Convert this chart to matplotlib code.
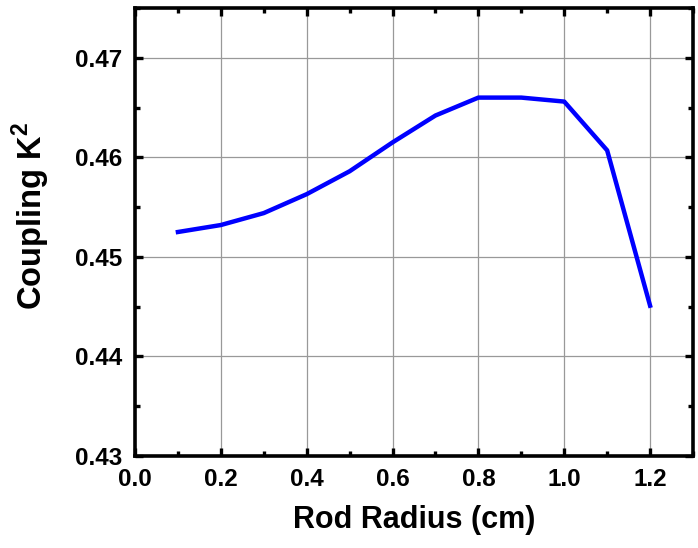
import matplotlib
matplotlib.use('Agg')
import matplotlib.pyplot as plt
from matplotlib.ticker import MultipleLocator

# rod radius (cm) vs coupling coefficient
radius = [0.1, 0.2, 0.3, 0.4, 0.5, 0.6, 0.7, 0.8, 0.9, 1.0, 1.1, 1.2]
coupling = [0.4525, 0.4532, 0.4544, 0.4563, 0.4586, 0.4615, 0.4642,
            0.4660, 0.4660, 0.4656, 0.4607, 0.4451]

plt.rcParams['font.family'] = ['Liberation Sans', 'DejaVu Sans']
plt.rcParams['font.weight'] = 'bold'
plt.rcParams['mathtext.fontset'] = 'custom'
plt.rcParams['mathtext.rm'] = 'Liberation Sans:bold'
plt.rcParams['mathtext.bf'] = 'Liberation Sans:bold'

fig = plt.figure(figsize=(6.98, 5.48), dpi=100)
ax = fig.add_axes([135 / 698, 1 - 456 / 548, 558 / 698, 448 / 548])

ax.plot(radius, coupling, color='#0000ff', lw=3.2, zorder=3)

ax.set_xlim(0, 1.3)
ax.set_ylim(0.43, 0.475)
ax.xaxis.set_major_locator(MultipleLocator(0.2))
ax.xaxis.set_minor_locator(MultipleLocator(0.1))
ax.yaxis.set_major_locator(MultipleLocator(0.01))
ax.yaxis.set_minor_locator(MultipleLocator(0.005))
ax.xaxis.set_major_formatter(lambda v, p: '%.1f' % v)
ax.yaxis.set_major_formatter(lambda v, p: '%.2f' % v)

ax.grid(True, which='major', color='#999999', lw=0.9)
ax.set_axisbelow(True)

ax.tick_params(which='both', direction='in', top=True, right=True,
               labelsize=17.5, width=2.4)
ax.tick_params(which='major', length=6, pad=9)
ax.tick_params(which='minor', length=3.5)
for s in ax.spines.values():
    s.set_linewidth(2.6)

ax.set_xlabel('Rod Radius (cm)', fontsize=22, fontweight='bold', labelpad=10)
ax.set_ylabel('Coupling K$^\\mathrm{2}$', fontsize=23.5, fontweight='bold')
ax.yaxis.set_label_coords(-0.148, 0.535)

fig.savefig('out.png', dpi=100)
